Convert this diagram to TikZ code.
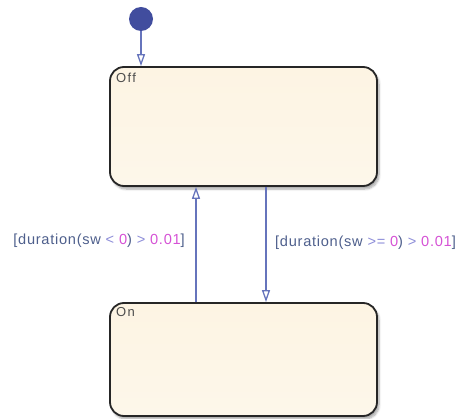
\documentclass[tikz,border=0pt]{standalone}
\usepackage{fontspec}
\setmainfont{Liberation Sans}
\newfontfamily\labfont[LetterSpace=5]{Liberation Sans}
\newfontfamily\stfont[LetterSpace=10]{Liberation Sans}
\usetikzlibrary{arrows.meta,shadows.blur}
\definecolor{statefill}{HTML}{FDF4E3}
\definecolor{statefillb}{HTML}{FDF7EA}
\definecolor{trans}{HTML}{6674BC}
\definecolor{dotc}{HTML}{414D9E}
\definecolor{txtc}{HTML}{4E5F8C}
\definecolor{numc}{HTML}{D552D5}
\definecolor{opc}{HTML}{8C8CD8}
\tikzset{
  chartstate/.style={draw=black!85, line width=1.8pt, rounded corners=14pt,
    top color=statefill, bottom color=statefillb, minimum width=267pt,
    blur shadow={shadow xshift=2pt, shadow yshift=-3pt, shadow blur steps=6, shadow opacity=35}},
  tr/.style={draw=trans, line width=1.3pt, -{Triangle[open,length=12pt,width=8pt]}},
  statelabel/.style={font=\stfont\fontsize{13}{14}\selectfont, text=black!70, inner sep=0pt, anchor=north west},
  translabel/.style={font=\labfont\fontsize{14.6}{16}\selectfont, text=txtc, inner sep=0pt}
}
\begin{document}
\begin{tikzpicture}[x=1pt,y=-1pt]
\useasboundingbox (0,0) rectangle (460,419);
\node[chartstate, minimum height=119pt] (Off) at (243.5,126.5) {};
\node[chartstate, minimum height=113pt] (On) at (243.5,359.5) {};
\node[statelabel] (offlab) at (116,73) {Off};
\node[statelabel] (onlab) at (116,307) {On};
\fill[dotc] (141,19) circle (12pt);
\coordinate (dot) at (141,31);
\draw[tr] (dot) -- ([xshift=-102.5pt]Off.north);
\draw[tr] ([xshift=-47.5pt]On.north) -- ([xshift=-47.5pt]Off.south);
\draw[tr] ([xshift=22.5pt]Off.south) -- ([xshift=22.5pt]On.north);
\node[translabel, anchor=east] (l1) at (185,241) {[duration(sw \textcolor{opc}{<} \textcolor{numc}{0}) \textcolor{opc}{>} \textcolor{numc}{0.01}]};
\node[translabel, anchor=west] (l2) at (275,243) {[duration(sw \textcolor{opc}{>=} \textcolor{numc}{0}) \textcolor{opc}{>} \textcolor{numc}{0.01}]};
\end{tikzpicture}
\end{document}
